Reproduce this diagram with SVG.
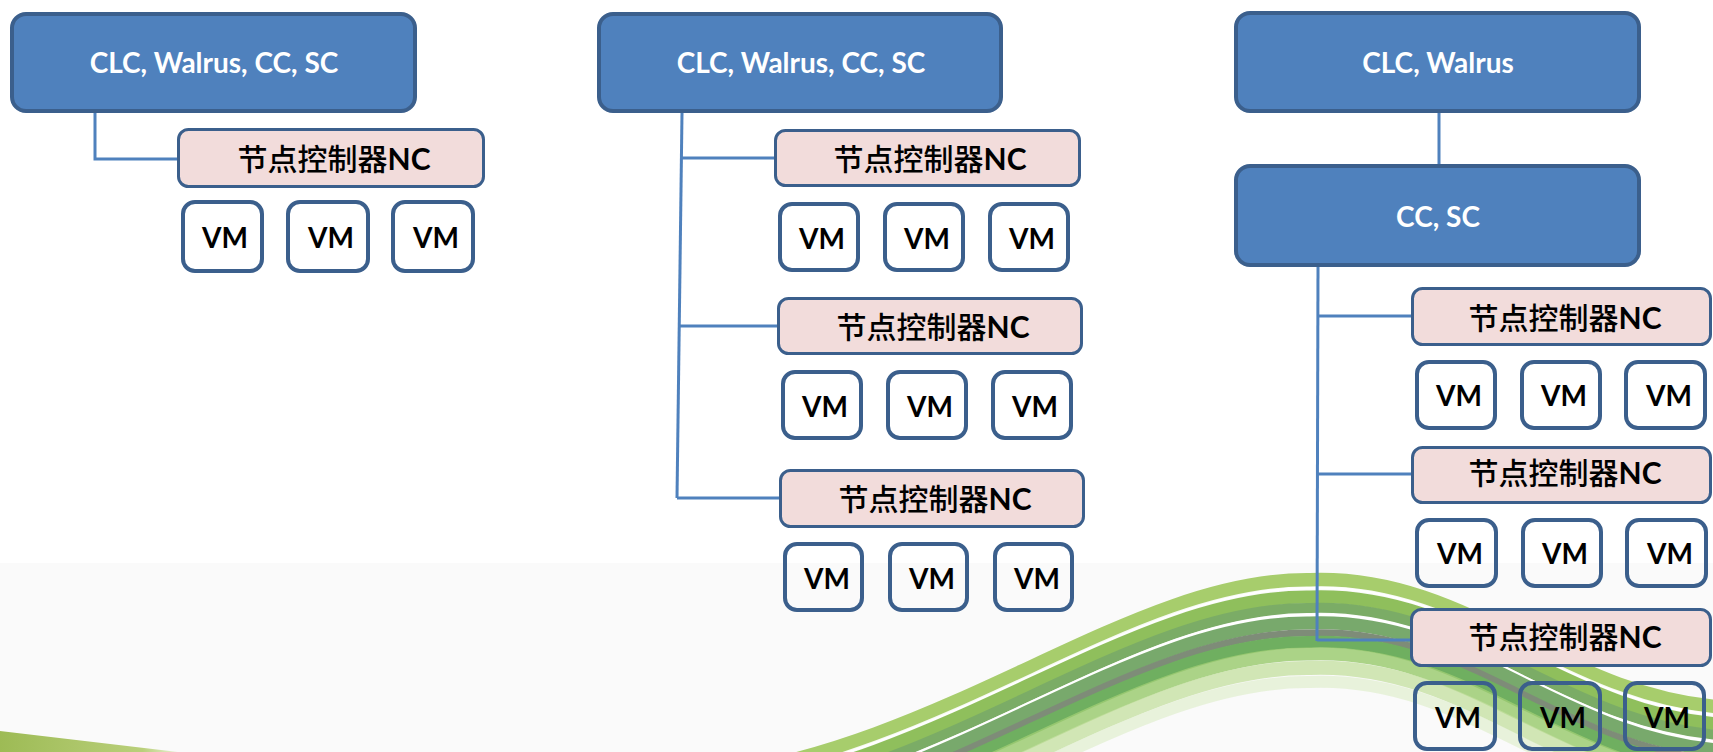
<svg xmlns="http://www.w3.org/2000/svg" width="1713" height="752" viewBox="0 0 1713 752">
  <style>
    .hub { fill: #4f81bd; stroke: #3b5f8c; stroke-width: 4; }
    .hub-text { font-family: Lato, "Liberation Sans", sans-serif; font-weight: 700; font-size: 28px; fill: #ffffff; text-anchor: middle; }
    .nc { fill: #f2dcdb; stroke: #3b5f8c; stroke-width: 3; }
    .nc-text { font-family: "Noto Sans CJK SC", "Noto Sans", sans-serif; font-weight: 500; font-size: 30px; fill: #000000; text-anchor: middle; }
    .nc-text .latin { font-family: Lato, "Liberation Sans", sans-serif; font-weight: 700; }
    .vm { fill: none; stroke: #3b5f8c; stroke-width: 4; }
    .vm-text { font-family: Lato, "Liberation Sans", sans-serif; font-weight: 700; font-size: 28px; fill: #000000; text-anchor: middle; }
    .link { fill: none; stroke: #4f81bd; stroke-width: 3; }
    .strand { fill: none; stroke-linecap: round; }
  </style>
  <defs>
    <path id="wave" d="M 700 770 C 950 740 1130 570 1310 572 C 1470 566 1560 690 1730 700"/>
    <linearGradient id="wedge" x1="0" y1="0" x2="1" y2="0">
      <stop offset="0" stop-color="#9dbb55"/>
      <stop offset="0.8" stop-color="#b9cf7a"/>
      <stop offset="1" stop-color="#e8f0d4"/>
    </linearGradient>
  </defs>

  <!-- backdrop -->
  <rect x="0" y="0" width="1713" height="752" fill="#ffffff"/>
  <rect x="0" y="563" width="1713" height="189" fill="#fafafa"/>
  <polygon points="0,731 178,752 0,752" fill="url(#wedge)"/>

  <!-- green ribbon -->
  <g id="ribbon" class="strand">
    <use href="#wave" transform="translate(0,8)" stroke="#a7cd6c" stroke-width="14"/>
    <use href="#wave" transform="translate(0,16)" stroke="#ffffff" stroke-width="3" opacity="0.9"/>
    <use href="#wave" transform="translate(0,25)" stroke="#8fbf5c" stroke-width="13"/>
    <use href="#wave" transform="translate(0,36)" stroke="#7bac66" stroke-width="10"/>
    <use href="#wave" transform="translate(0,43)" stroke="#ffffff" stroke-width="2.5" opacity="0.85"/>
    <use href="#wave" transform="translate(0,51)" stroke="#78a96c" stroke-width="13"/>
    <use href="#wave" transform="translate(0,61)" stroke="#7e8c78" stroke-width="7"/>
    <use href="#wave" transform="translate(0,70)" stroke="#6faf60" stroke-width="12"/>
    <use href="#wave" transform="translate(0,82)" stroke="#9ccb72" stroke-width="13" opacity="0.85"/>
    <use href="#wave" transform="translate(0,96)" stroke="#c3df9e" stroke-width="14" opacity="0.75"/>
    <use href="#wave" transform="translate(0,110)" stroke="#dcecc6" stroke-width="12" opacity="0.6"/>
  </g>

  <!-- connectors -->
  <g id="connectors" class="link">
    <polyline points="95,113 95,159 177,159"/>
    <line x1="682" y1="113" x2="677" y2="498"/>
    <line x1="681" y1="158" x2="774" y2="158"/>
    <line x1="679" y1="326" x2="777" y2="326"/>
    <line x1="677" y1="498" x2="779" y2="498"/>
    <line x1="1439" y1="113" x2="1439" y2="165"/>
    <line x1="1318" y1="267" x2="1317" y2="641"/>
    <line x1="1318" y1="316" x2="1411" y2="316"/>
    <line x1="1318" y1="474" x2="1411" y2="474"/>
    <line x1="1317" y1="640" x2="1411" y2="640"/>
  </g>

  <!-- left: single controller with all services -->
  <g id="left-hub">
    <rect class="hub" x="12" y="14" width="403" height="97" rx="14"/>
    <text class="hub-text" x="214" y="73">CLC, Walrus, CC, SC</text>
  </g>
  <g id="left-nc">
    <rect class="nc" x="178.5" y="129.5" width="305" height="57" rx="10"/>
    <text class="nc-text" x="334" y="170">节点控制器<tspan class="latin">NC</tspan></text>
  </g>
  <g id="left-vm1"><rect class="vm" x="183" y="202" width="79" height="69" rx="12"/><text class="vm-text" x="225" y="248">VM</text></g>
  <g id="left-vm2"><rect class="vm" x="288" y="202" width="80" height="69" rx="12"/><text class="vm-text" x="331" y="248">VM</text></g>
  <g id="left-vm3"><rect class="vm" x="393" y="202" width="80" height="69" rx="12"/><text class="vm-text" x="436" y="248">VM</text></g>

  <!-- middle: one controller, three node controllers -->
  <g id="mid-hub">
    <rect class="hub" x="599" y="14" width="402" height="97" rx="14"/>
    <text class="hub-text" x="801" y="73">CLC, Walrus, CC, SC</text>
  </g>
  <g id="mid-nc1">
    <rect class="nc" x="775.5" y="130.5" width="304" height="55" rx="10"/>
    <text class="nc-text" x="930" y="170">节点控制器<tspan class="latin">NC</tspan></text>
  </g>
  <g id="mid-vm1"><rect class="vm" x="780" y="204" width="78" height="66" rx="12"/><text class="vm-text" x="822" y="249">VM</text></g>
  <g id="mid-vm2"><rect class="vm" x="885" y="204" width="78" height="66" rx="12"/><text class="vm-text" x="927" y="249">VM</text></g>
  <g id="mid-vm3"><rect class="vm" x="990" y="204" width="78" height="66" rx="12"/><text class="vm-text" x="1032" y="249">VM</text></g>
  <g id="mid-nc2">
    <rect class="nc" x="778.5" y="298.5" width="303" height="55" rx="10"/>
    <text class="nc-text" x="933" y="338">节点控制器<tspan class="latin">NC</tspan></text>
  </g>
  <g id="mid-vm4"><rect class="vm" x="783" y="372" width="78" height="66" rx="12"/><text class="vm-text" x="825" y="417">VM</text></g>
  <g id="mid-vm5"><rect class="vm" x="888" y="372" width="78" height="66" rx="12"/><text class="vm-text" x="930" y="417">VM</text></g>
  <g id="mid-vm6"><rect class="vm" x="993" y="372" width="78" height="66" rx="12"/><text class="vm-text" x="1035" y="417">VM</text></g>
  <g id="mid-nc3">
    <rect class="nc" x="780.5" y="470.5" width="303" height="56" rx="10"/>
    <text class="nc-text" x="935" y="510">节点控制器<tspan class="latin">NC</tspan></text>
  </g>
  <g id="mid-vm7"><rect class="vm" x="785" y="544" width="77" height="66" rx="12"/><text class="vm-text" x="827" y="589">VM</text></g>
  <g id="mid-vm8"><rect class="vm" x="890" y="544" width="77" height="66" rx="12"/><text class="vm-text" x="932" y="589">VM</text></g>
  <g id="mid-vm9"><rect class="vm" x="995" y="544" width="77" height="66" rx="12"/><text class="vm-text" x="1037" y="589">VM</text></g>

  <!-- right: cloud controller split from cluster controller -->
  <g id="right-hub">
    <rect class="hub" x="1236" y="13" width="403" height="98" rx="14"/>
    <text class="hub-text" x="1438" y="73">CLC, Walrus</text>
  </g>
  <g id="right-cluster">
    <rect class="hub" x="1236" y="166" width="403" height="99" rx="14"/>
    <text class="hub-text" x="1438" y="227">CC, SC</text>
  </g>
  <g id="right-nc1">
    <rect class="nc" x="1412.5" y="288.5" width="298" height="56" rx="10"/>
    <text class="nc-text" x="1565" y="329">节点控制器<tspan class="latin">NC</tspan></text>
  </g>
  <g id="right-vm1"><rect class="vm" x="1417" y="362" width="78" height="66" rx="12"/><text class="vm-text" x="1459" y="406">VM</text></g>
  <g id="right-vm2"><rect class="vm" x="1522" y="362" width="78" height="66" rx="12"/><text class="vm-text" x="1564" y="406">VM</text></g>
  <g id="right-vm3"><rect class="vm" x="1626" y="362" width="79" height="66" rx="12"/><text class="vm-text" x="1669" y="406">VM</text></g>
  <g id="right-nc2">
    <rect class="nc" x="1412.5" y="447.5" width="298" height="55" rx="10"/>
    <text class="nc-text" x="1565" y="484">节点控制器<tspan class="latin">NC</tspan></text>
  </g>
  <g id="right-vm4"><rect class="vm" x="1417" y="520" width="79" height="66" rx="12"/><text class="vm-text" x="1460" y="564">VM</text></g>
  <g id="right-vm5"><rect class="vm" x="1523" y="520" width="78" height="66" rx="12"/><text class="vm-text" x="1565" y="564">VM</text></g>
  <g id="right-vm6"><rect class="vm" x="1627" y="520" width="79" height="66" rx="12"/><text class="vm-text" x="1670" y="564">VM</text></g>
  <g id="right-nc3">
    <rect class="nc" x="1411.5" y="609.5" width="299" height="56" rx="10"/>
    <text class="nc-text" x="1565" y="648">节点控制器<tspan class="latin">NC</tspan></text>
  </g>
  <g id="right-vm7"><rect class="vm" x="1415" y="683" width="80" height="66" rx="12"/><text class="vm-text" x="1458" y="728">VM</text></g>
  <g id="right-vm8"><rect class="vm" x="1520" y="683" width="80" height="66" rx="12"/><text class="vm-text" x="1563" y="728">VM</text></g>
  <g id="right-vm9"><rect class="vm" x="1625" y="683" width="79" height="66" rx="12"/><text class="vm-text" x="1667" y="728">VM</text></g>
</svg>
